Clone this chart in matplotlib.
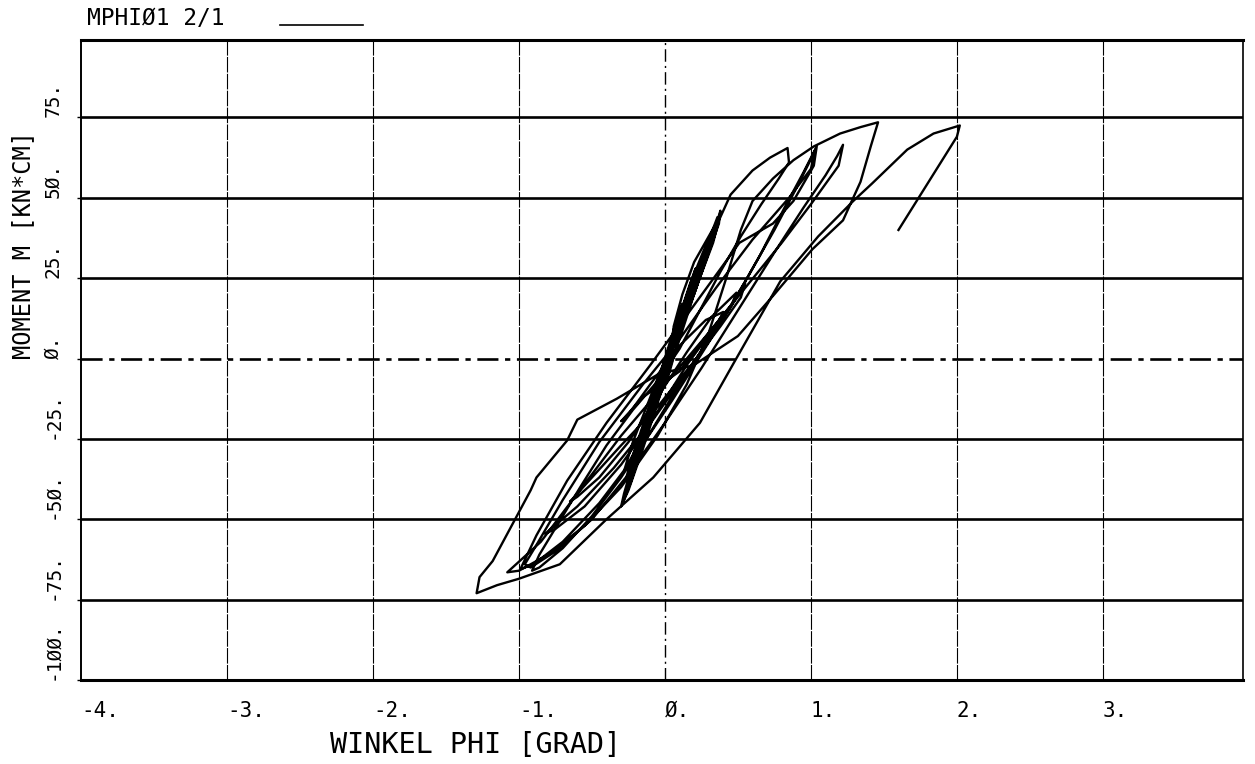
import matplotlib
matplotlib.use("Agg")
import matplotlib.pyplot as plt

plt.rcParams['font.family'] = ['DejaVu Sans Mono']

# Test record MPHI01 2/1: rotation angle [deg] and moment [kN*cm]
phi = [
    0.00, 0.06, 0.12, 0.10, 0.02, -0.06, -0.10, -0.07, 0.01,
    0.09, 0.17, 0.21, 0.17, 0.07, -0.05, -0.13, -0.18, -0.14, -0.04,
    0.08, 0.18, 0.26, 0.30, 0.25, 0.14, 0.03, -0.09, -0.19, -0.25, -0.21, -0.10, 0.01,
    0.12, 0.22, 0.31, 0.36, 0.33, 0.24, 0.12, 0.01, -0.11, -0.21, -0.28, -0.30, -0.25, -0.15, -0.03,
    0.10, 0.20, 0.30, 0.37, 0.38, 0.34, 0.26, 0.16, 0.05, -0.08, -0.18, -0.26, -0.29, -0.23, -0.12, 0.00,
    0.10, 0.19, 0.28, 0.34, 0.30, 0.20, 0.08, -0.04, -0.16, -0.24, -0.27, -0.20, -0.08, 0.04,
    0.06, 0.12, 0.20, 0.30, 0.35, 0.32, 0.26, 0.20, 0.12, 0.02, -0.10, -0.22, -0.28, -0.22, -0.06, 0.02,
    0.12, 0.23, 0.33, 0.37,
    0.45, 0.60, 0.72, 0.84, 0.85, 0.78, 0.66, 0.52, 0.38, 0.24, 0.10, -0.05, -0.22, -0.40,
    -0.58, -0.74, -0.86, -0.91,
    -0.86, -0.70, -0.50, -0.30, -0.10, 0.10, 0.30, 0.45, 0.55,
    0.52, 0.38, 0.18, -0.05, -0.30, -0.50, -0.65,
    -0.60, -0.45, -0.25, -0.05, 0.15, 0.32, 0.49,
    0.46, 0.30, 0.10, -0.15, -0.30,
    -0.26, -0.10, 0.10, 0.28, 0.40,
    0.36, 0.15, -0.10, -0.35, -0.60, -0.82,
    -0.75, -0.55, -0.30, -0.05, 0.20, 0.45, 0.65, 0.82, 0.95, 1.04,
    1.02, 0.88, 0.74, 0.51, 0.19, -0.10, -0.40, -0.67, -0.88, -0.99,
    -0.90, -0.70, -0.45, -0.20, 0.05, 0.30, 0.55, 0.75, 0.90, 1.00, 1.03,
    1.00, 0.85, 0.60, 0.35, 0.10, -0.15, -0.45, -0.70, -0.88, -0.96,
    -0.92, -0.75, -0.50, -0.25, 0.00, 0.25, 0.50, 0.75, 0.95, 1.10, 1.18, 1.22,
    1.19, 1.00, 0.80, 0.55, 0.30, 0.00, -0.30, -0.60, -0.85, -1.02, -1.08,
    -1.00, -0.80, -0.55, -0.30, -0.05, 0.15, 0.30, 0.42, 0.52, 0.60, 0.74, 0.88, 1.02, 1.20, 1.34, 1.46,
    1.41, 1.34, 1.22, 1.01, 0.75, 0.50, 0.20, -0.05, -0.33, -0.60, -0.67, -0.88, -0.92, -1.18, -1.27, -1.29,
    -1.15, -1.00, -0.72, -0.40, -0.08, 0.24, 0.47, 0.79, 1.05, 1.29, 1.42, 1.66, 1.84, 2.02,
    2.00, 1.60,
]
moment = [
    0, 9, 17, 13, 2, -8, -14, -11, 0,
    12, 23, 28, 22, 9, -7, -18, -26, -21, -7,
    10, 24, 33, 37, 30, 16, 2, -13, -27, -36, -32, -18, -2,
    13, 27, 38, 44, 38, 26, 12, -1, -17, -31, -42, -46, -41, -28, -11,
    6, 20, 33, 42, 46, 40, 29, 16, 2, -15, -29, -40, -45, -38, -22, -5,
    10, 22, 32, 40, 34, 22, 8, -8, -22, -33, -38, -30, -16, -2,
    10, 20, 30, 38, 42, 36, 28, 20, 12, 2, -12, -26, -35, -30, -14, -6,
    10, 24, 36, 43,
    51, 58.5, 62.5, 65.5, 61, 56, 48, 38, 27, 15, 3, -7, -16, -27,
    -40, -52, -61, -66,
    -65, -59, -49, -37, -23, -8, 6, 16, 23.5,
    19, 10, -2, -15, -27, -37, -44.5,
    -43, -37, -26, -12, 2, 13, 20.5,
    17, 8, -4, -12, -19.5,
    -18, -8, 4, 12, 14.5,
    11, -2, -20, -34, -46, -54.5,
    -53, -46, -33, -17, -1, 16, 32, 47, 58, 66,
    60, 49, 42, 36, 16, -2, -20, -38, -55, -65.5,
    -64, -57, -45, -30, -13, 5, 24, 40, 53, 62, 65,
    59, 50, 37, 22, 6, -8, -26, -44, -58, -64,
    -65, -60, -50, -36, -20, -3, 15, 33, 47, 57, 63, 66.5,
    60, 48, 36, 22, 8, -8, -24, -42, -57, -64, -66.5,
    -66, -61, -52, -40, -24, -8, 8, 25, 40, 49, 56, 61.7, 66, 70, 72, 73.5,
    66, 55, 43, 34, 20, 7, -2, -5, -12.5, -19, -25.5, -37, -41, -63, -68, -73,
    -70.5, -68.5, -64, -50, -37, -20, -1.5, 24, 38, 49, 54.5, 65, 70, 72.5,
    69, 40,
]

phi_ticks = [-4, -3, -2, -1, 0, 1, 2, 3]
phi_labels = ["-4.", "-3.", "-2.", "-1.", "Ø.", "1.", "2.", "3."]
m_ticks = [-100, -75, -50, -25, 0, 25, 50, 75]
m_labels = ["-1ØØ.", "-75.", "-5Ø.", "-25.", "Ø.", "25.", "5Ø.", "75."]

fig = plt.figure(figsize=(12.55, 7.64), dpi=100)
ax = fig.add_axes([81 / 1255, 84 / 764, 1162 / 1255, 640 / 764])
ax.set_xlim(-4, 3.96)
ax.set_ylim(-100, 99.1)

# plotter grid: heavy horizontals, fine verticals, dash-dot zero lines
for m in m_ticks[1:]:
    if m == 0:
        ax.axhline(m, color='black', lw=1.9, ls=(0, (8, 2.5, 2, 2.5)), zorder=1)
    else:
        ax.axhline(m, color='black', lw=1.9, zorder=1)
for p in phi_ticks[1:]:
    if p == 0:
        ax.axvline(p, color='black', lw=1.0, ls=(0, (9, 3, 1.5, 3)), zorder=1)
    else:
        ax.axvline(p, color='black', lw=0.8, ls=(0, (14, 1.2)), zorder=1)

ax.plot(phi, moment, color='black', lw=1.7, solid_joinstyle='round', zorder=3)

ax.spines['top'].set_linewidth(2.2)
ax.spines['bottom'].set_linewidth(2.2)
ax.spines['left'].set_linewidth(1.4)
ax.spines['right'].set_linewidth(1.2)

ax.set_xticks(phi_ticks, phi_labels, ha='left', fontsize=15)
ax.tick_params(axis='x', length=0, pad=15)
ax.set_yticks(m_ticks, m_labels, rotation=90, rotation_mode='anchor',
              ha='left', va='center', fontsize=14)
ax.tick_params(axis='y', direction='out', length=3, width=1, pad=17)

ax.set_xlabel("WINKEL PHI [GRAD]", fontsize=20.5, ha='left', va='center')
ax.xaxis.set_label_coords(0.214, -0.1016)
ax.set_ylabel("MOMENT M [KN*CM]", fontsize=17, ha='left', va='center',
              rotation=90, rotation_mode='anchor')
ax.yaxis.set_label_coords(-0.0499, 0.502)

ax.text(0.005, 1.034, "MPHIØ1 2/1", transform=ax.transAxes,
        ha='left', va='center', fontsize=16.5)
ax.plot([0.171, 0.243], [1.0234, 1.0234], transform=ax.transAxes,
        color='black', lw=1.2, clip_on=False)

fig.savefig("out.png", dpi=100)
